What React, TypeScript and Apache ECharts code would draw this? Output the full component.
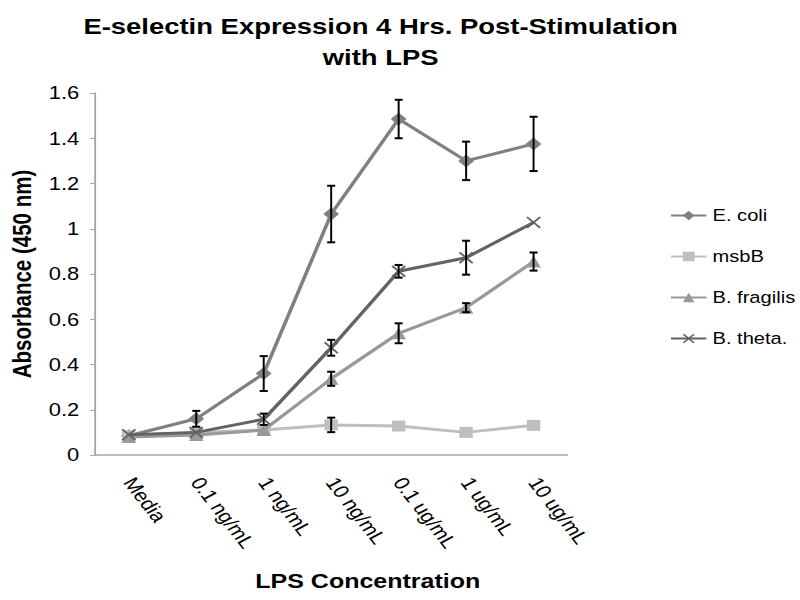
import React, { useEffect, useRef } from "react";
import * as echarts from "echarts";

const categories = ["Media", "0.1 ng/mL", "1 ng/mL", "10 ng/mL", "0.1 ug/mL", "1 ug/mL", "10 ug/mL"];
const seriesNames = ["E. coli", "msbB", "B. fragilis", "B. theta."];

const ecoli = [0.085, 0.16, 0.36, 1.065, 1.485, 1.3, 1.375];
const ecoliErr = [0, 0.035, 0.077, 0.125, 0.085, 0.085, 0.12];

const msbB = [0.085, 0.1, 0.11, 0.133, 0.128, 0.1, 0.131];
const msbBErr = [0, 0, 0, 0.032, 0, 0, 0];

const fragilis = [0.08, 0.088, 0.11, 0.337, 0.538, 0.651, 0.855];
const fragilisErr = [0, 0, 0, 0.031, 0.044, 0.02, 0.04];

const theta = [0.09, 0.1, 0.158, 0.474, 0.812, 0.872, 1.028];
const thetaErr = [0, 0, 0.025, 0.035, 0.028, 0.075, 0];

const yTicks = { min: 0, max: 1.6, interval: 0.2 };

const colors = ["#808080", "#bfbfbf", "#999999", "#636363"];
const symbols = [
  "diamond",
  "rect",
  "triangle",
  "path://M0,1L1,0L5,4L9,0L10,1L6,5L10,9L9,10L5,6L1,10L0,9L4,5Z",
];
const symbolSizes = [13, 11, 12, 12];

const values = [ecoli, msbB, fragilis, theta];
const errors = [ecoliErr, msbBErr, fragilisErr, thetaErr];

// the reference picture is stretched horizontally
const STRETCH = 1.22;
const W = Math.round(800 / STRETCH);
const H = 600;

export default function App() {
  const ref = useRef<HTMLDivElement>(null);
  useEffect(() => {
    if (!ref.current) return;
    const chart = echarts.init(ref.current, undefined, { renderer: "svg" });
    const font = "'Liberation Sans', Arial, sans-serif";

    const lineSeries = values.map((v, i) => ({
      name: seriesNames[i],
      type: "line",
      data: v,
      symbol: symbols[i],
      symbolSize: symbolSizes[i],
      lineStyle: { color: colors[i], width: 3 },
      itemStyle: { color: colors[i] },
      z: 2 + i,
    }));

    const errSeries = values.map((v, i) => ({
      name: seriesNames[i] + " err",
      type: "custom",
      z: 10,
      data: v
        .map((val, j) => [j, val - errors[i][j], val + errors[i][j], errors[i][j]])
        .filter((d) => d[3] > 0),
      renderItem: (params: any, api: any) => {
        const x = api.value(0);
        const lo = api.coord([x, api.value(1)]);
        const hi = api.coord([x, api.value(2)]);
        const hw = 3.3;
        const style = { stroke: "#000", lineWidth: 1.6 };
        return {
          type: "group",
          children: [
            { type: "line", shape: { x1: lo[0], y1: lo[1], x2: hi[0], y2: hi[1] }, style },
            { type: "line", shape: { x1: hi[0] - hw, y1: hi[1], x2: hi[0] + hw, y2: hi[1] }, style: { stroke: "#000", lineWidth: 2 } },
            { type: "line", shape: { x1: lo[0] - hw, y1: lo[1], x2: lo[0] + hw, y2: lo[1] }, style: { stroke: "#000", lineWidth: 2 } },
          ],
        };
      },
    }));

    chart.setOption({
      animation: false,
      backgroundColor: "#fff",
      textStyle: { fontFamily: font },
      title: {
        text: "E-selectin Expression 4 Hrs. Post-Stimulation\nwith LPS",
        left: Math.round(374 / STRETCH),
        textAlign: "center",
        top: 5,
        textStyle: { fontSize: 22.5, fontWeight: "bold", color: "#000", fontFamily: font, lineHeight: 31 },
      },
      legend: {
        data: seriesNames,
        orient: "vertical",
        left: Math.round(664 / STRETCH),
        top: 202,
        itemGap: 24,
        itemWidth: 29,
        itemHeight: 12,
        textStyle: { fontSize: 16.5, color: "#000", fontFamily: font },
      },
      grid: {
        left: Math.round(93 / STRETCH),
        right: W - Math.round(567 / STRETCH),
        top: 93,
        bottom: 145,
        containLabel: false,
      },
      xAxis: {
        type: "category",
        data: categories,
        boundaryGap: true,
        axisLine: { lineStyle: { color: "#a6a6a6", width: 1.5 } },
        axisTick: { show: false },
        axisLabel: { rotate: -57, fontSize: 18, color: "#000", margin: 24, fontFamily: font },
        name: "LPS Concentration",
        nameLocation: "middle",
        nameGap: 115,
        nameTextStyle: { fontSize: 20.5, fontWeight: "bold", color: "#000", fontFamily: font, padding: [0, 0, 0, 60] },
      },
      yAxis: {
        type: "value",
        min: yTicks.min,
        max: yTicks.max,
        interval: yTicks.interval,
        axisLine: { show: true, lineStyle: { color: "#a6a6a6", width: 1.5 } },
        axisTick: { show: true, length: 4, lineStyle: { color: "#a6a6a6" } },
        splitLine: { show: false },
        axisLabel: { fontSize: 18, color: "#000", margin: 13, fontFamily: font },
        name: "Absorbance (450 nm)",
        nameLocation: "middle",
        nameGap: 46,
        nameTextStyle: { fontSize: 20.5, fontWeight: "bold", color: "#000", fontFamily: font },
      },
      series: [...lineSeries, ...errSeries],
    });
    return () => chart.dispose();
  }, []);
  return (
    <div style={{ position: "fixed", left: 0, top: 0, width: 800, height: 600, overflow: "hidden", background: "#fff" }}>
      <div
        ref={ref}
        style={{ width: W, height: H, transform: `scaleX(${STRETCH})`, transformOrigin: "0 0" }}
      />
    </div>
  );
}
